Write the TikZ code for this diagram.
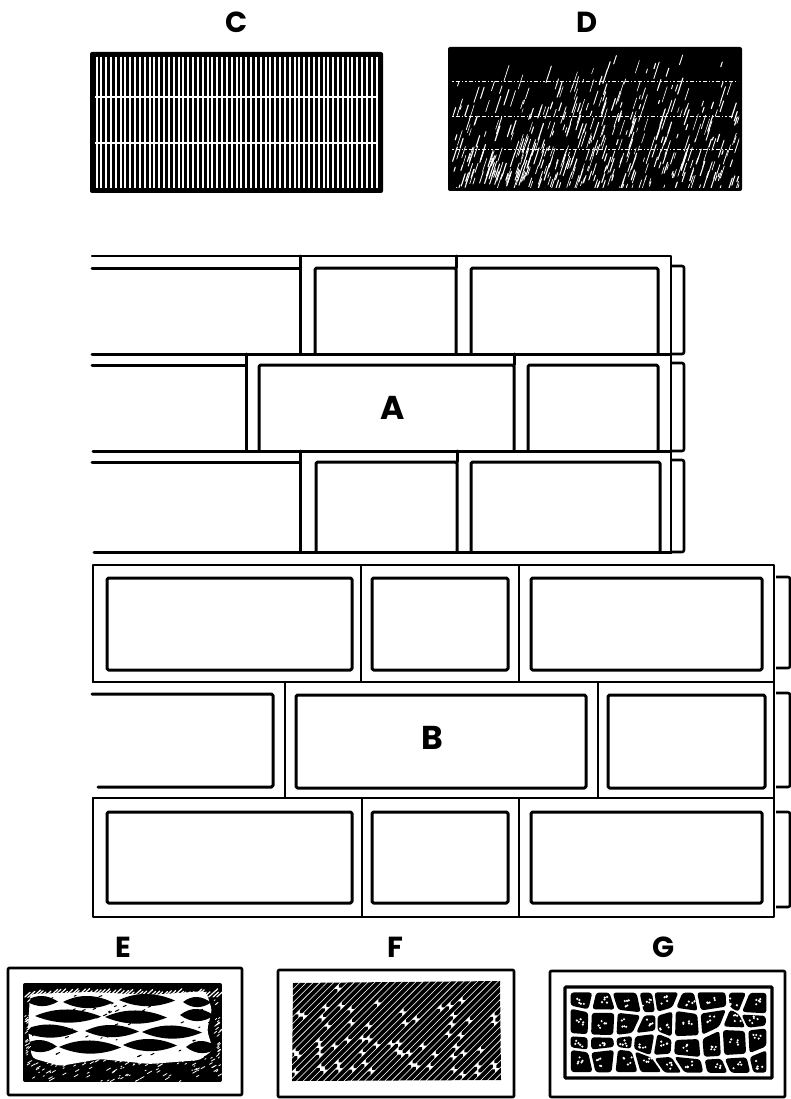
\documentclass[tikz,border=0pt]{standalone}
\usepackage{fontspec}
\usetikzlibrary{calc}
\newfontfamily\labelfont{Poppins}
\begin{document}
\begin{tikzpicture}[x=1pt,y=-1pt,
  lbl/.style={font=\labelfont\bfseries\fontsize{29}{29}\selectfont, inner sep=0pt},
  biglbl/.style={font=\labelfont\bfseries\fontsize{33}{33}\selectfont, inner sep=0pt},
  brick/.style={line width=3pt, line join=round, line cap=round, rounded corners=1.5pt},
  joint/.style={line width=1.8pt, line cap=round},
  wallline/.style={line width=2.2pt, line join=round, line cap=round},
  endcap/.style={line width=2.6pt, line join=round, rounded corners=2pt},
  panel/.style={line width=2.6pt, line join=round, rounded corners=1pt},
  hatchstroke/.style={line width=3.9pt, line cap=round},
]
\useasboundingbox (0,0) rectangle (791,1099);
\fill[white] (0,0) rectangle (791,1099);

% ---------- labels ----------
\node[lbl] (labC) at (237,22) {C};
\node[lbl] (labD) at (587,22) {D};
\node[biglbl] (labA) at (393,408) {A};
\node[biglbl] (labB) at (432,738) {B};
\node[lbl] (labE) at (123,947) {E};
\node[lbl] (labF) at (395,947) {F};
\node[lbl] (labG) at (664,947) {G};

% ---------- C: vertical ruling with two bed joints ----------
\fill[rounded corners=2pt] (90,52) rectangle (383,193);
\begin{scope}
  \clip (94,56) rectangle (379,189);
  \foreach \i in {0,...,58} {
    \draw[white, line width=2pt] ({96.5+\i*4.83},57) -- ++(0,131);
  }
  \draw[white, line width=1.6pt] (95,97) -- (378,97);
  \draw[white, line width=1.6pt] (95,143) -- (378,143);
\end{scope}

% ---------- D: dark field with slanted white strokes ----------
% (y runs downward here, so negative angles point up the page)
\fill[rounded corners=2pt] (448,47) rectangle (742,191);
\begin{scope}
  \clip (451,50) rectangle (739,188);
  \pgfmathsetseed{7}
  \foreach \i in {1,...,460} {
    \pgfmathsetmacro{\px}{452+286*rnd}
    \pgfmathsetmacro{\py}{56+136*sqrt(rnd)}
    \pgfmathsetmacro{\pl}{3+15*rnd}
    \pgfmathsetmacro{\pw}{0.5+0.7*rnd}
    \draw[white, line width=\pw pt, line cap=round] (\px,\py) -- ++(-72:\pl);
  }
  \foreach \jy in {82,117,150} {
    \draw[white, line width=1pt, dash pattern=on 2pt off 1.5pt on 4pt off 2.5pt on 1pt off 2pt] (452,\jy) -- (738,\jy);
  }
\end{scope}

% ---------- wall A ----------
\draw[wallline] (92,256) -- (671,256) -- (671,553);
% course 1
\draw[brick] (92,268) -- (300,268);
\draw[brick] (300,256) -- (300,354);
\draw[brick] (315,354) -- (315,268) -- (456,268) -- (456,354);
\draw[brick] (456,256) -- (456,268);
\draw[brick] (471,354) -- (471,268) -- (658,268) -- (658,354);
\draw[brick] (92,354) -- (671,354);
\draw[endcap] (672,266) -- (684,266) -- (684,354) -- (672,354);
% course 2
\draw[brick] (92,365) -- (246,365);
\draw[brick] (246,354) -- (246,451);
\draw[brick] (259,451) -- (259,365) -- (514,365) -- (514,451);
\draw[brick] (514,354) -- (514,365);
\draw[brick] (528,451) -- (528,365) -- (658,365) -- (658,451);
\draw[brick] (93,451) -- (671,451);
\draw[endcap] (672,363) -- (684,363) -- (684,451) -- (672,451);
% course 3
\draw[brick] (92,462) -- (300,462);
\draw[brick] (300,451) -- (300,552);
\draw[brick] (316,552) -- (316,462) -- (457,462) -- (457,552);
\draw[brick] (457,451) -- (457,462);
\draw[brick] (471,552) -- (471,462) -- (660,462) -- (660,552);
\draw[brick] (94,552) -- (671,552);
\draw[endcap] (672,460) -- (684,460) -- (684,552) -- (672,552);

% ---------- wall B ----------
\draw[wallline] (93,682) -- (93,565) -- (774,565) -- (774,917) -- (93,917) -- (93,798);
\draw[joint] (93,682) -- (774,682);
\draw[joint] (93,798) -- (774,798);
\draw[joint] (361,565) -- (361,682);
\draw[joint] (519,565) -- (519,682);
\draw[joint] (285,682) -- (285,798);
\draw[joint] (598,682) -- (598,798);
\draw[joint] (362,798) -- (362,917);
\draw[joint] (519,798) -- (519,917);
% course 1
\draw[brick] (107,578) rectangle (352,670);
\draw[brick] (372,578) rectangle (508,670);
\draw[brick] (531,578) rectangle (762,670);
% course 2
\draw[brick] (92,694) -- (273,694) -- (273,787) -- (98,787);
\draw[brick] (296,695) rectangle (586,788);
\draw[brick] (608,695) rectangle (765,788);
% course 3
\draw[brick] (107,812) rectangle (352,903);
\draw[brick] (372,812) rectangle (508,903);
\draw[brick] (531,812) rectangle (762,903);
% returns
\draw[endcap] (776,577) -- (790,577) -- (790,668) -- (776,668);
\draw[endcap] (776,693) -- (790,693) -- (790,787) -- (776,787);
\draw[endcap] (776,812) -- (790,812) -- (790,907) -- (776,907);

% ---------- E: coursed stones ----------
\draw[panel] (8,968) rectangle (242,1095);
\begin{scope}
  \clip[rounded corners=2pt] (23,983) rectangle (222,1082);
  \fill (23,983) rectangle (222,1082);
  % open field between the stones
  \fill[white, rounded corners=4pt] (30,994) -- (90,992) -- (150,995) -- (206,991)
     -- (212,1010) -- (207,1030) -- (213,1050) -- (200,1060) -- (150,1064)
     -- (100,1059) -- (60,1066) -- (32,1058) -- (28,1030) -- cycle;
  % top band of diagonal hatching
  \pgfmathsetseed{31}
  \foreach \i in {0,...,48} {
    \pgfmathsetmacro{\ehx}{24+\i*4+1.5*rnd}
    \pgfmathsetmacro{\ehl}{7+6*rnd}
    \draw[white, line width=1.2pt, line cap=round] (\ehx,997) -- ++(-42:\ehl);
  }
  % stones
  \foreach \sx/\sy/\sw/\sh in {
      42/1001/16/5, 88/1002/25/6, 147/1000/28/6, 197/1002/14/5,
      68/1016/33/6.5, 136/1017/31/6.5, 197/1015/17/6,
      50/1031/28/6.5, 112/1031/27/6, 172/1032/30/6.5,
      40/1046/17/6, 90/1047/31/6.5, 150/1045/27/6, 202/1047/16/6} {
    \fill ({\sx-\sw},\sy)
      .. controls ({\sx-\sw/3},{\sy-1.45*\sh}) and ({\sx+\sw/3},{\sy-1.25*\sh}) .. ({\sx+\sw},{\sy+0.5})
      .. controls ({\sx+\sw/3},{\sy+1.35*\sh}) and ({\sx-\sw/3},{\sy+1.35*\sh}) .. cycle;
  }
  % grain in the open field
  \foreach \i in {1,...,70} {
    \pgfmathsetmacro{\egx}{28+185*rnd}
    \pgfmathsetmacro{\egy}{996+62*rnd}
    \pgfmathsetmacro{\egl}{1+3*rnd}
    \draw[line width=1pt, line cap=round] (\egx,\egy) -- ++(-25:\egl);
  }
  % speckle in the dark parts
  \foreach \i in {1,...,120} {
    \pgfmathsetmacro{\eqx}{25+195*rnd}
    \pgfmathsetmacro{\eqy}{1057+25*rnd}
    \pgfmathsetmacro{\eql}{1+4*rnd}
    \draw[white, line width=0.8pt, line cap=round] (\eqx,\eqy) -- ++(-30:\eql);
  }
  \foreach \i in {1,...,25} {
    \pgfmathsetmacro{\eqy}{995+60*rnd}
    \pgfmathsetmacro{\eql}{1+3*rnd}
    \draw[white, line width=0.8pt, line cap=round] ({24+5*rnd},\eqy) -- ++(-40:\eql);
    \draw[white, line width=0.8pt, line cap=round] ({214+6*rnd},{\eqy+3}) -- ++(-40:\eql);
  }
\end{scope}

% ---------- F: diagonal hatching ----------
\draw[panel] (278,970) rectangle (514,1097);
\begin{scope}
  \clip (293,983) -- (500,981) -- (501,1080) -- (292,1081) -- cycle;
  \pgfmathsetseed{11}
  \foreach \k in {0,...,47} {
    \pgfmathsetmacro{\fsx}{188+\k*6.8}
    \pgfmathsetmacro{\fla}{10+50*rnd}
    \pgfmathsetmacro{\flb}{25+55*rnd}
    \draw[hatchstroke] (\fsx,1084) -- ++(-45:\fla) ++(-45:6) -- ++(-45:\flb)
       ++(-45:6) -- ++(-45:120);
  }
\end{scope}

% ---------- G: random rubble cells ----------
\draw[panel] (550,971) rectangle (785,1097);
\draw[line width=3.2pt, rounded corners=1pt] (565,987) rectangle (772,1078);
\pgfmathsetseed{5}
\foreach \i in {0,...,9} {
  \foreach \j in {0,...,4} {
    \pgfmathsetmacro{\gx}{569+\i*22.1+ifthenelse(\i==0 || \i==9, 0, 16*rnd-8)}
    \pgfmathsetmacro{\gy}{991+\j*20.75+ifthenelse(\j==0 || \j==4, 0, 12*rnd-6)}
    \coordinate (g-\i-\j) at (\gx,\gy);
  }
}
\foreach \i in {0,...,8} {
  \foreach \j in {0,...,3} {
    \pgfmathtruncatemacro{\gnx}{\i+1}
    \pgfmathtruncatemacro{\gny}{\j+1}
    \coordinate (gc) at ($(g-\i-\j)!0.5!(g-\gnx-\gny)$);
    \fill[rounded corners=3pt] ($(gc)!0.85!(g-\i-\j)$) -- ($(gc)!0.85!(g-\gnx-\j)$)
      -- ($(gc)!0.85!(g-\gnx-\gny)$) -- ($(gc)!0.85!(g-\i-\gny)$) -- cycle;
    \foreach \d in {1,...,5} {
      \fill[white] ($(gc)+({9*rnd-4.5},{8*rnd-4})$) circle (1.2pt);
    }
  }
}
\end{tikzpicture}
\end{document}
